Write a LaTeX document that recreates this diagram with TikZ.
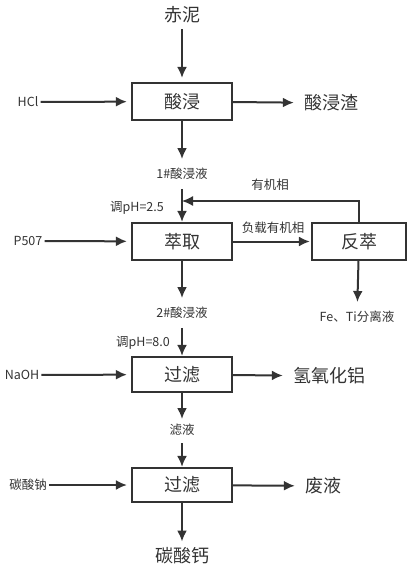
\documentclass[tikz,border=0pt]{standalone}
\usepackage{fontspec}
\setmainfont{Noto Sans CJK SC}
\usetikzlibrary{arrows.meta}
\definecolor{ink}{HTML}{333333}
\begin{document}
\begin{tikzpicture}[x=1pt,y=-1pt,text=ink,
  box/.style={draw=ink,line width=2.2pt,minimum width=100pt,minimum height=37pt,font=\fontsize{18}{18}\selectfont},
  big/.style={font=\fontsize{18}{18}\selectfont,inner sep=6pt},
  small/.style={font=\fontsize{12.5}{12.5}\selectfont,inner sep=5pt},
  flow/.style={draw=ink,line width=2pt,-{Latex[length=11pt,width=10pt]},shorten >=4pt}]
\useasboundingbox (0,0) rectangle (410,572);
% process boxes
\node[box] (jin) at (182,101.5) {酸浸};
\node[box] (cq) at (182,241.5) {萃取};
\node[box,minimum width=94pt] (fc) at (359,241.5) {反萃};
\node[box,minimum height=35pt] (gl1) at (182,374.5) {过滤};
\node[box,minimum height=34pt] (gl2) at (182,485) {过滤};
% materials
\node[big] (chini) at (182,15) {赤泥};
\node[small] (hcl) at (28,102) {HCl};
\node[big] (zha) at (331,103) {酸浸渣};
\node[small] (ye1) at (182,174) {1\#酸浸液};
\node[small] (yjx) at (270,185) {有机相};
\node[small] (ph1) at (137,208) {调pH=2.5};
\node[small] (p507) at (28,241) {P507};
\node[small] (fzyjx) at (273,228) {负载有机相};
\node[small] (feti) at (357,317) {Fe、Ti分离液};
\node[small] (ye2) at (182,313) {2\#酸浸液};
\node[small] (ph2) at (143,343) {调pH=8.0};
\node[small] (naoh) at (22,375) {NaOH};
\node[big] (alh) at (329,376) {氢氧化铝};
\node[small] (lv) at (182,430) {滤液};
\node[small] (nat) at (28,485) {碳酸钠};
\node[big] (fy) at (323,486) {废液};
\node[big] (gai) at (182,556) {碳酸钙};
\coordinate (fb) at (182,201);
% flows
\draw[flow] (chini) -- (jin);
\draw[flow,shorten <=-3pt] (hcl) -- (jin);
\draw[flow] (jin) -- (zha);
\draw[flow] (jin) -- (ye1);
\draw[flow,shorten <=4pt,shorten >=0pt] (ye1) -- (cq);
\draw[draw=ink,line width=1.3pt,-{Latex[length=11pt,width=10pt]}] (fc.north) |- (fb);
\draw[flow,shorten <=-3pt] (p507) -- (cq);
\draw[flow,shorten >=1pt] (cq) -- (fc);
\draw[flow] (fc) -- (feti);
\draw[flow] (cq) -- (ye2);
\draw[flow,shorten <=4pt,shorten >=0pt] (ye2) -- (gl1);
\draw[flow,shorten <=-3pt] (naoh) -- (gl1);
\draw[flow] (gl1) -- (alh);
\draw[flow,shorten >=0pt] (gl1) -- (lv);
\draw[flow,shorten <=2pt,shorten >=0pt] (lv) -- (gl2);
\draw[flow,shorten <=-3pt] (nat) -- (gl2);
\draw[flow] (gl2) -- (fy);
\draw[flow,shorten >=0pt] (gl2) -- (gai);
\end{tikzpicture}
\end{document}
